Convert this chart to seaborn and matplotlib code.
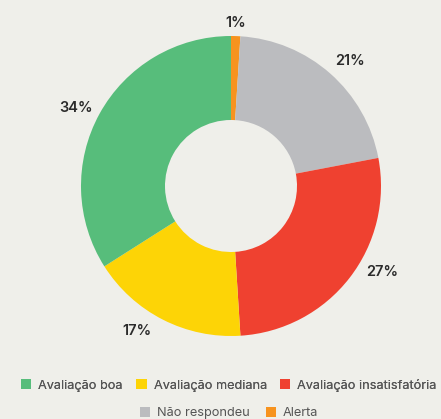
import matplotlib
matplotlib.use("Agg")
import matplotlib.pyplot as plt
from matplotlib.patches import Patch
import numpy as np
import seaborn as sns

categories = ["Alerta", "Não respondeu", "Avaliação insatisfatória", "Avaliação mediana", "Avaliação boa"]
values = [1, 21, 27, 17, 34]
labels = ["1%", "21%", "27%", "17%", "34%"]
colors = ["#F7931E", "#BBBCBF", "#EF4130", "#FDD406", "#57BD7B"]
legend_row1 = ["Avaliação boa", "Avaliação mediana", "Avaliação insatisfatória"]
legend_row2 = ["Não respondeu", "Alerta"]

# label placement tweaks (distance in radii, angular shift in degrees)
label_dist = [1.09, 1.15, 1.16, 1.15, 1.16]
label_shift = [0, -2, 8, -6, 2]

sns.set_theme(style="white")
plt.rcParams["font.family"] = ["Inter", "DejaVu Sans"]
bg = "#EFEFEA"

fig = plt.figure(figsize=(4.41, 4.19), dpi=100, facecolor=bg)
ax = fig.add_axes([81 / 441, 83 / 419, 300 / 441, 300 / 419])
ax.set_facecolor(bg)

wedges, _ = ax.pie(
    values,
    colors=colors,
    startangle=90,
    counterclock=False,
    wedgeprops=dict(width=0.56, edgecolor="none"),
)
for w, lab, d, s in zip(wedges, labels, label_dist, label_shift):
    ang = np.deg2rad((w.theta1 + w.theta2) / 2 + s)
    ax.text(d * np.cos(ang), d * np.sin(ang), lab, ha="center", va="center",
            fontsize=10.5, fontweight="semibold", color="#2b2b2b")
ax.set_xlim(-1, 1)
ax.set_ylim(-1, 1)
ax.set_aspect("equal")
ax.axis("off")

cmap = dict(zip(categories, colors))

def make_legend(names, y, spacing):
    handles = [Patch(facecolor=cmap[n], edgecolor="none", label=n) for n in names]
    leg = fig.legend(
        handles=handles,
        loc="center",
        bbox_to_anchor=(229 / 441, y),
        ncol=len(names),
        frameon=False,
        fontsize=9.2,
        handlelength=0.8,
        handleheight=0.8,
        handletextpad=0.55,
        columnspacing=spacing,
        labelcolor="#555555",
    )
    return leg

leg1 = make_legend(legend_row1, 1 - 385 / 419, 1.05)
fig.add_artist(leg1)
make_legend(legend_row2, 1 - 413 / 419, 1.25)

fig.savefig("out.png", dpi=100, facecolor=bg)
